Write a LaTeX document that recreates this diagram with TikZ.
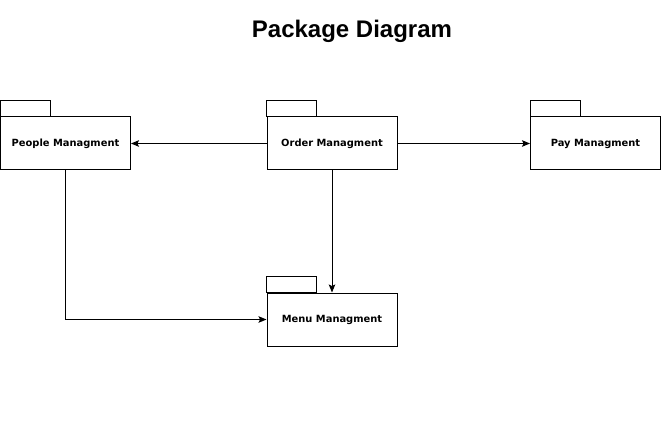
\documentclass[tikz,border=0pt]{standalone}
\usepackage{fontspec}
\setmainfont{Liberation Sans}
\newfontfamily\labelfont{DejaVu Sans}
\usetikzlibrary{arrows.meta}
\tikzset{
  pkg/.style={draw=black, line width=1pt, minimum width=130pt, minimum height=53pt,
    inner sep=0pt, font=\labelfont\fontsize{9.9pt}{11pt}\selectfont\bfseries},
  pkgtab/.style={draw=black, line width=1pt},
  conn/.style={draw=black, line width=1pt, -{Stealth[length=8pt,width=6.5pt,inset=1.5pt]}},
  titletext/.style={font=\fontsize{24pt}{27pt}\selectfont\bfseries}
}
\begin{document}
\begin{tikzpicture}[x=1pt,y=1pt]
\useasboundingbox (0,0) rectangle (661,429);
\node[titletext] (title) at (352,398) {Package Diagram};
\node[pkg] (P) at (65.5,285.5) {People Managment};
\node[pkg] (O) at (332,285.5) {Order Managment};
\node[pkg] (Y) at (595.5,285.5) {Pay Managment};
\node[pkg] (M) at (332,109.5) {Menu Managment};
\foreach \n in {P,O,Y,M}{
  \draw[pkgtab] (\n.north west) rectangle ++(50,16);
}
\draw[conn] (O.west) -- (P.east);
\draw[conn] (O.east) -- (Y.west);
\draw[conn] (O.south) -- (M.north);
\draw[conn] (P.south) |- (M.west);
\end{tikzpicture}
\end{document}
